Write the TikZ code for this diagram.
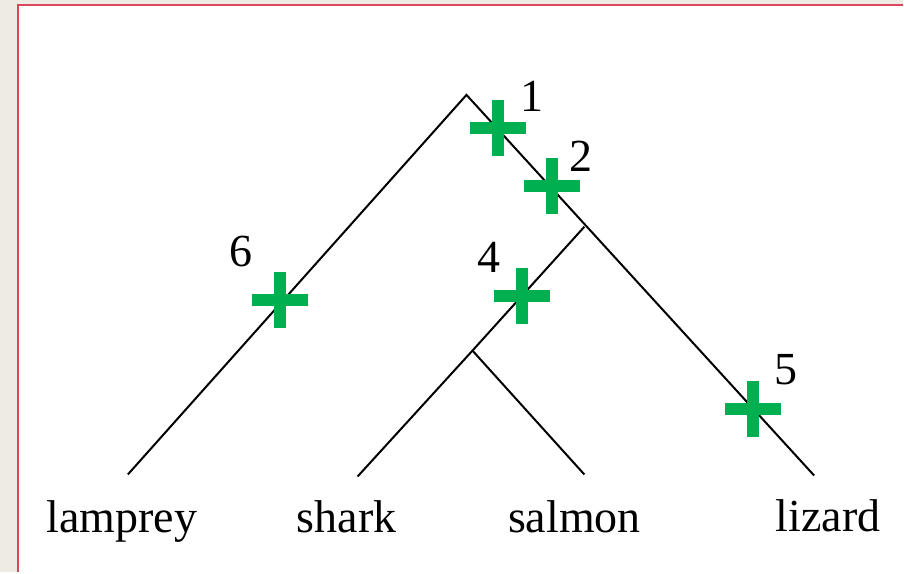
\documentclass[tikz,border=0pt]{standalone}
\usepackage{fontspec}
\setmainfont{Liberation Serif}
\usetikzlibrary{positioning}

\definecolor{pagegray}{HTML}{EEEBE4}
\definecolor{frame}{HTML}{D9475A}
\definecolor{gaingreen}{HTML}{00B050}

\tikzset{
  branch/.style={line width=2pt, black},
  taxon/.style={anchor=base, font=\fontsize{46}{50}\selectfont},
  step num/.style={anchor=base, font=\fontsize{46}{50}\selectfont},
  gain/.pic={
    \draw[gaingreen, line width=12pt] (-28,0) -- (28,0);
    \draw[gaingreen, line width=12pt] (0,-28) -- (0,28);
  }
}

\begin{document}
\begin{tikzpicture}[x=1pt, y=-1pt]

% Page
\fill[pagegray] (0,0) rectangle (904,573);
\fill[white] (18,5) rectangle (904,573);
\draw[frame, line width=2pt] (18,573) -- (18,5) -- (904,5);
\useasboundingbox (0,0) rectangle (904,573);

% --- Tree ---
\coordinate (root) at (467,95);
\coordinate (fish) at (585,227);
\coordinate (bony) at (473,351);
\coordinate (lampreyend) at (128,475);
\coordinate (sharkend) at (358,477);
\coordinate (salmonend) at (585,475);
\coordinate (lizardend) at (815,476);

\draw[branch] (lampreyend) -- (root) -- (lizardend);
\draw[branch] (fish) -- (bony) -- (sharkend);
\draw[branch] (bony) -- (salmonend);

% --- Taxa ---
\node[taxon] (lamprey) at (122,533) {lamprey};
\node[taxon] (shark) at (347,533) {shark};
\node[taxon] (salmon) at (575,533) {salmon};
\node[taxon] (lizard) at (829,532) {lizard};

% --- Character changes ---
\foreach \x/\y in {499/128, 553/186, 523/296, 280/300, 754/409}
  \pic at (\x,\y) {gain};

\node[step num] (n1) at (533,112) {1};
\node[step num] (n2) at (582,172) {2};
\node[step num] (n4) at (490,273) {4};
\node[step num] (n5) at (787,385) {5};
\node[step num] (n6) at (241,267) {6};

\end{tikzpicture}
\end{document}
